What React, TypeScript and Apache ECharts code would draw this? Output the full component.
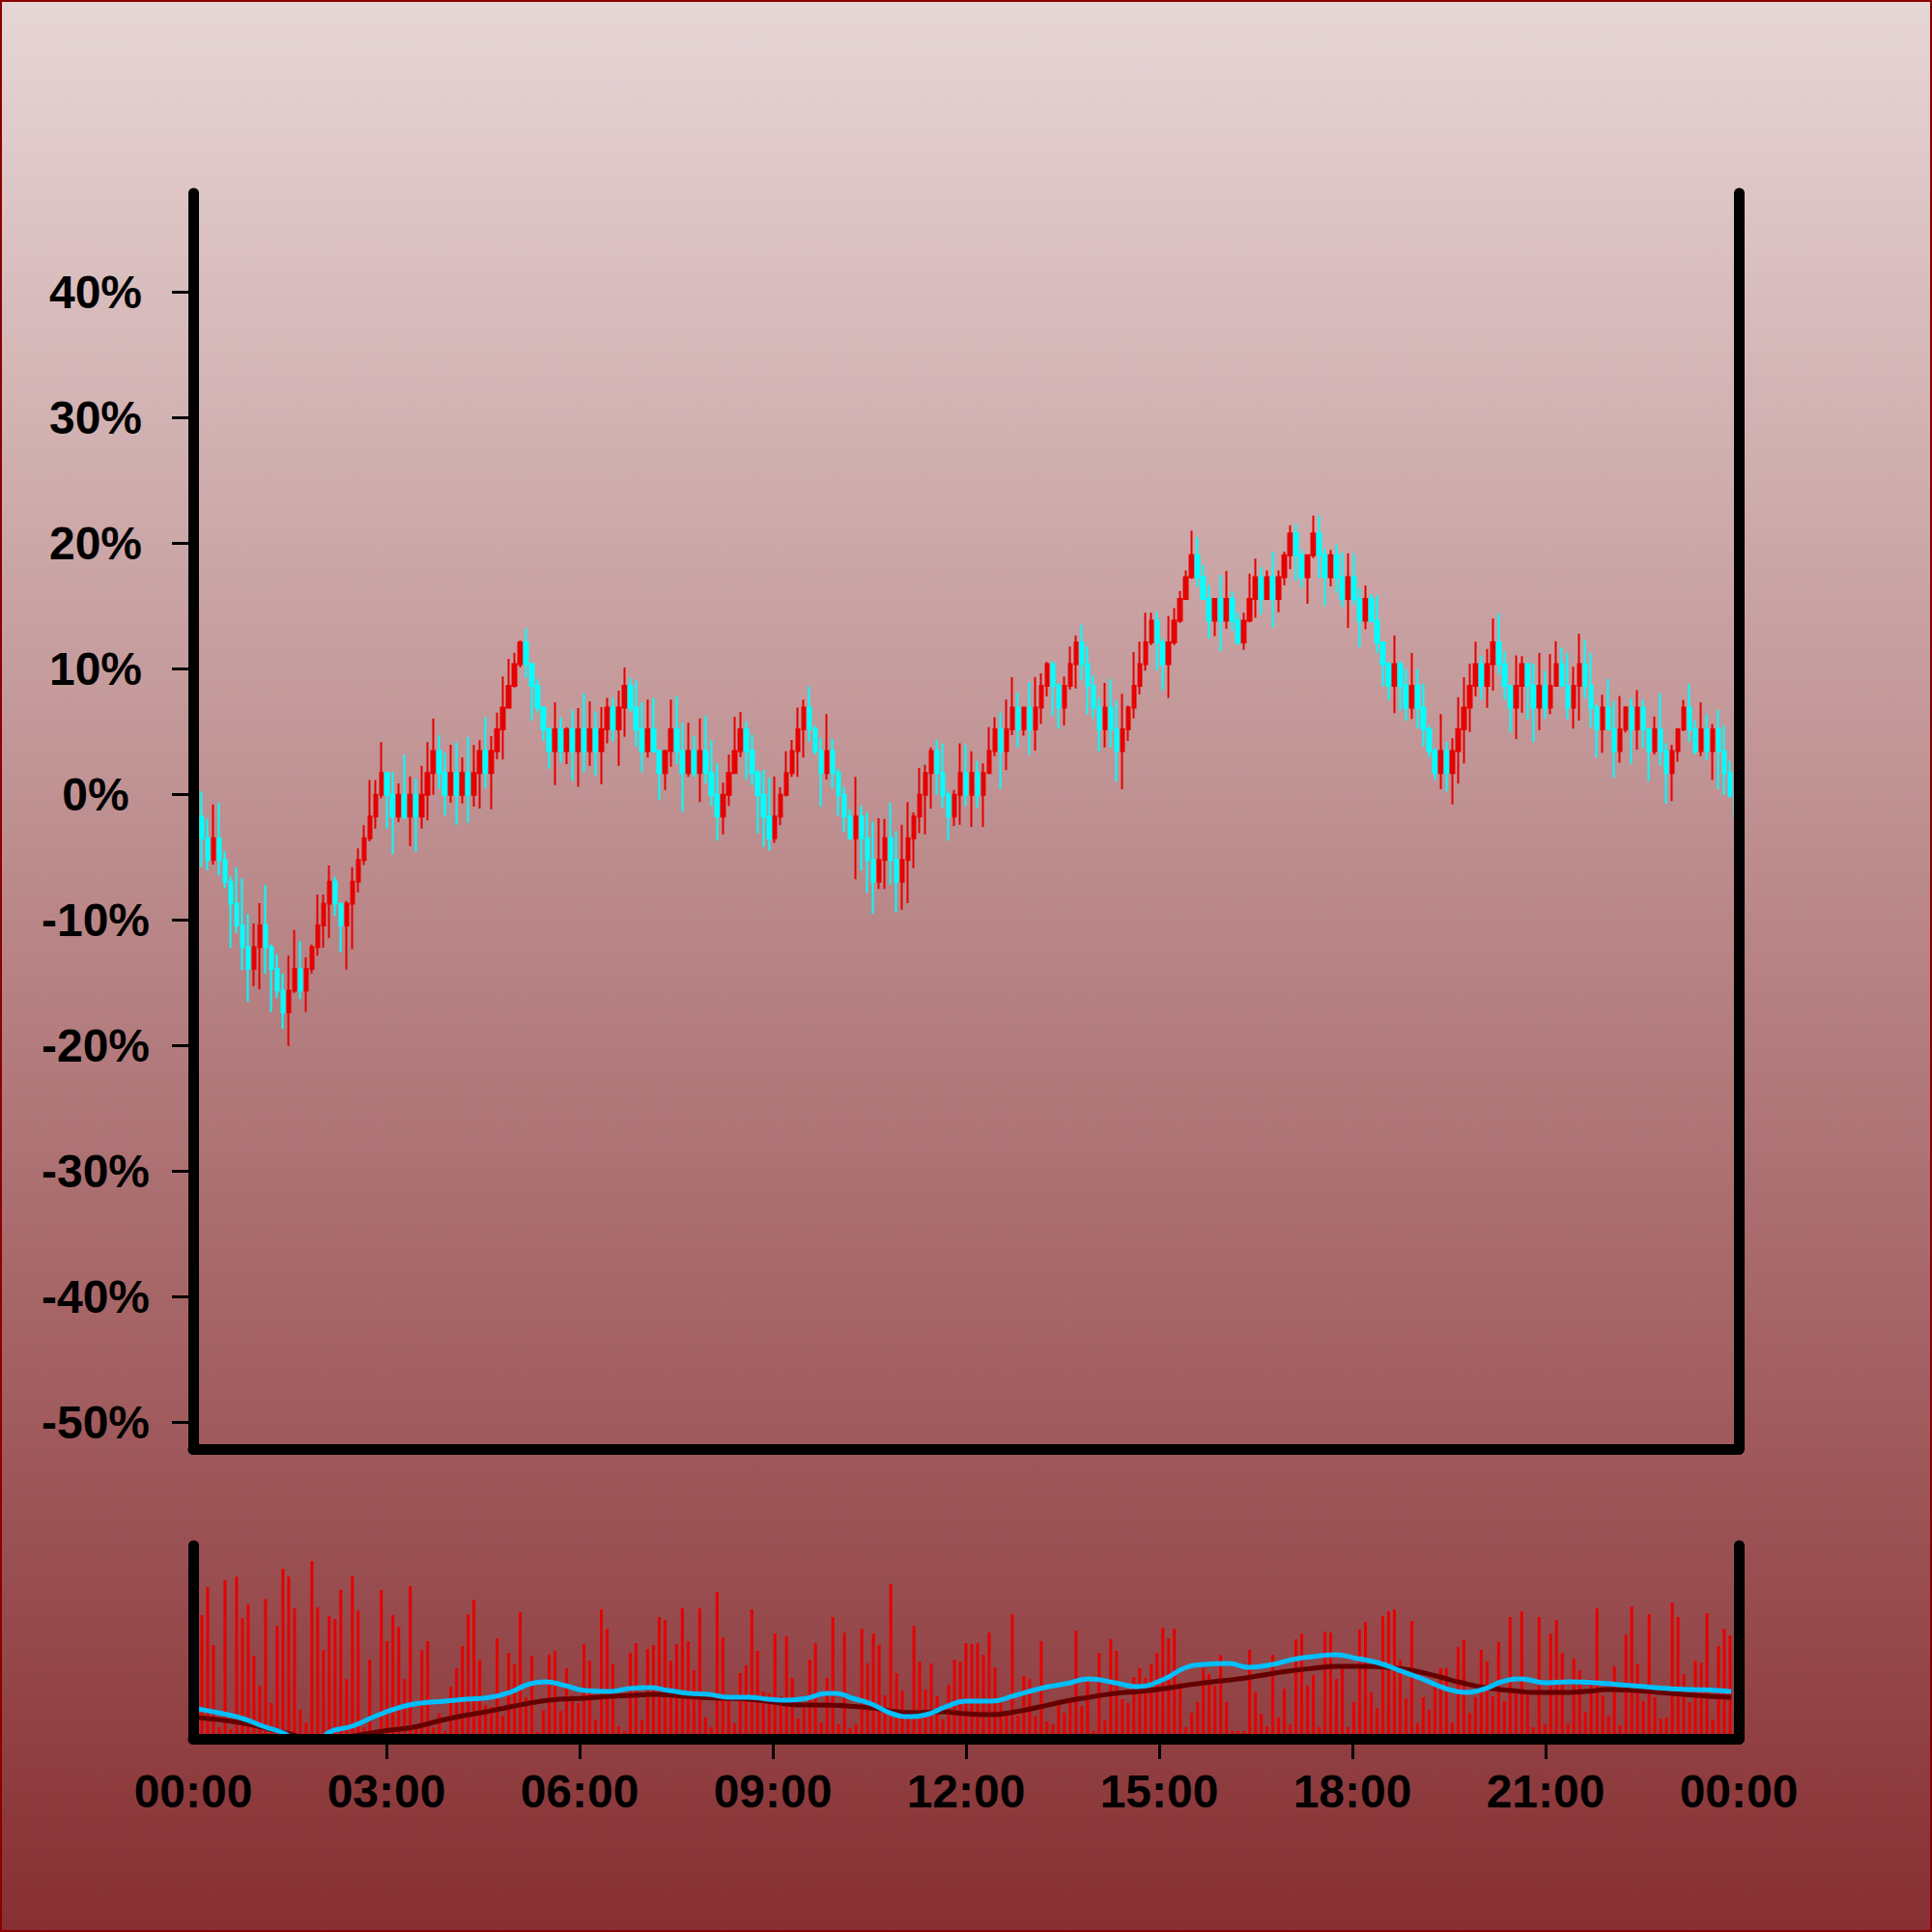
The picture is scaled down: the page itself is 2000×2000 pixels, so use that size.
import React, { useEffect, useRef } from 'react';
import * as echarts from 'echarts';

const DAY_MINUTES = 1440;

const opens = [
  0, -1.73, -3.47, -5.2, -3.47, -5.2, -6.93, -8.67, -10.4, -12.13,
  -13.87, -12.13, -10.4, -12.13, -13.87, -15.6, -17.33, -15.6, -13.87, -15.6,
  -13.87, -12.13, -10.4, -8.67, -6.93, -8.67, -10.4, -8.67, -6.93, -5.2,
  -3.47, -1.73, 0, 1.73, 0, -1.73, 0, -1.73, 0, -1.73,
  0, 1.73, 3.47, 1.73, 0, 1.73, 0, 1.73, 0, 1.73,
  3.47, 1.73, 3.47, 5.2, 6.93, 8.67, 10.4, 12.13, 10.4, 8.67,
  6.93, 5.2, 3.47, 5.2, 3.47, 5.2, 3.47, 5.2, 3.47, 5.2,
  3.47, 5.2, 6.93, 5.2, 6.93, 8.67, 6.93, 5.2, 3.47, 5.2,
  3.47, 1.73, 3.47, 5.2, 3.47, 1.73, 3.47, 1.73, 3.47, 1.73,
  0, -1.73, 0, 1.73, 3.47, 5.2, 3.47, 1.73, 0, -1.73,
  -3.47, -1.73, 0, 1.73, 3.47, 5.2, 6.93, 5.2, 3.47, 1.73,
  3.47, 1.73, 0, -1.73, -3.47, -1.73, -3.47, -5.2, -6.93, -5.2,
  -3.47, -5.2, -6.93, -5.2, -3.47, -1.73, 0, 1.73, 3.47, 1.73,
  0, -1.73, 0, 1.73, 0, 1.73, 0, 1.73, 3.47, 5.2,
  3.47, 5.2, 6.93, 5.2, 6.93, 5.2, 6.93, 8.67, 10.4, 8.67,
  6.93, 8.67, 10.4, 12.13, 10.4, 8.67, 6.93, 5.2, 6.93, 5.2,
  3.47, 5.2, 6.93, 8.67, 10.4, 12.13, 13.87, 12.13, 10.4, 12.13,
  13.87, 15.6, 17.33, 19.07, 17.33, 15.6, 13.87, 15.6, 13.87, 15.6,
  13.87, 12.13, 13.87, 15.6, 17.33, 15.6, 17.33, 15.6, 17.33, 19.07,
  20.8, 19.07, 17.33, 19.07, 20.8, 19.07, 17.33, 19.07, 17.33, 15.6,
  17.33, 15.6, 13.87, 15.6, 13.87, 12.13, 10.4, 8.67, 10.4, 8.67,
  6.93, 8.67, 6.93, 5.2, 3.47, 1.73, 3.47, 1.73, 3.47, 5.2,
  6.93, 8.67, 10.4, 8.67, 10.4, 12.13, 10.4, 8.67, 6.93, 8.67,
  10.4, 8.67, 6.93, 8.67, 6.93, 8.67, 10.4, 8.67, 6.93, 8.67,
  10.4, 8.67, 6.93, 5.2, 6.93, 5.2, 3.47, 5.2, 6.93, 5.2,
  6.93, 5.2, 3.47, 5.2, 3.47, 1.73, 3.47, 5.2, 6.93, 5.2,
  3.47, 5.2, 3.47, 5.2, 3.47, 1.73, 0,
];

const closes = [
  -1.73, -3.47, -5.2, -3.47, -5.2, -6.93, -8.67, -10.4, -12.13, -13.87,
  -12.13, -10.4, -12.13, -13.87, -15.6, -17.33, -15.6, -13.87, -15.6, -13.87,
  -12.13, -10.4, -8.67, -6.93, -8.67, -10.4, -8.67, -6.93, -5.2, -3.47,
  -1.73, 0, 1.73, 0, -1.73, 0, -1.73, 0, -1.73, 0,
  1.73, 3.47, 1.73, 0, 1.73, 0, 1.73, 0, 1.73, 3.47,
  1.73, 3.47, 5.2, 6.93, 8.67, 10.4, 12.13, 10.4, 8.67, 6.93,
  5.2, 3.47, 5.2, 3.47, 5.2, 3.47, 5.2, 3.47, 5.2, 3.47,
  5.2, 6.93, 5.2, 6.93, 8.67, 6.93, 5.2, 3.47, 5.2, 3.47,
  1.73, 3.47, 5.2, 3.47, 1.73, 3.47, 1.73, 3.47, 1.73, 0,
  -1.73, 0, 1.73, 3.47, 5.2, 3.47, 1.73, 0, -1.73, -3.47,
  -1.73, 0, 1.73, 3.47, 5.2, 6.93, 5.2, 3.47, 1.73, 3.47,
  1.73, 0, -1.73, -3.47, -1.73, -3.47, -5.2, -6.93, -5.2, -3.47,
  -5.2, -6.93, -5.2, -3.47, -1.73, 0, 1.73, 3.47, 1.73, 0,
  -1.73, 0, 1.73, 0, 1.73, 0, 1.73, 3.47, 5.2, 3.47,
  5.2, 6.93, 5.2, 6.93, 5.2, 6.93, 8.67, 10.4, 8.67, 6.93,
  8.67, 10.4, 12.13, 10.4, 8.67, 6.93, 5.2, 6.93, 5.2, 3.47,
  5.2, 6.93, 8.67, 10.4, 12.13, 13.87, 12.13, 10.4, 12.13, 13.87,
  15.6, 17.33, 19.07, 17.33, 15.6, 13.87, 15.6, 13.87, 15.6, 13.87,
  12.13, 13.87, 15.6, 17.33, 15.6, 17.33, 15.6, 17.33, 19.07, 20.8,
  19.07, 17.33, 19.07, 20.8, 19.07, 17.33, 19.07, 17.33, 15.6, 17.33,
  15.6, 13.87, 15.6, 13.87, 12.13, 10.4, 8.67, 10.4, 8.67, 6.93,
  8.67, 6.93, 5.2, 3.47, 1.73, 3.47, 1.73, 3.47, 5.2, 6.93,
  8.67, 10.4, 8.67, 10.4, 12.13, 10.4, 8.67, 6.93, 8.67, 10.4,
  8.67, 6.93, 8.67, 6.93, 8.67, 10.4, 8.67, 6.93, 8.67, 10.4,
  8.67, 6.93, 5.2, 6.93, 5.2, 3.47, 5.2, 6.93, 5.2, 6.93,
  5.2, 3.47, 5.2, 3.47, 1.73, 3.47, 5.2, 6.93, 5.2, 3.47,
  5.2, 3.47, 5.2, 3.47, 1.73, 0, -1.73,
];

const highs = [
  1.2, 0.26, -1.92, -0.77, -0.64, -4.5, -6.5, -5.77, -6.66, -9.49,
  -10.25, -8.64, -7.18, -11.92, -12.69, -14.23, -12.82, -10.77, -11.66, -12.95,
  -11.92, -7.95, -7.95, -5.64, -6.53, -8.59, -8.46, -5.77, -4.28, -2.43,
  1.16, 1.16, 4.18, 1.8, 1.8, 0.9, 3.21, 1.46, 1.28, 2.31,
  4.18, 6.08, 4.75, 3.34, 3.98, 4.16, 2.95, 4.62, 3.98, 4.34,
  6.16, 4.67, 6.54, 9.41, 10.82, 11.31, 12.28, 13.26, 10.5, 9.23,
  7.05, 5.39, 7.36, 6.16, 5.39, 6.75, 6.9, 8.08, 7.44, 6.62,
  6.98, 7.7, 7.7, 8.28, 10.13, 9.31, 9.1, 7.36, 7.57, 7.7,
  3.6, 3.59, 7.57, 7.82, 5.72, 5.72, 4.69, 6.08, 6.28, 4.36,
  2.49, 0.95, 3.21, 6.21, 6.59, 5.82, 4.8, 1.98, 1.98, 1.36,
  1.46, 0.59, 3.46, 4.36, 6.93, 7.57, 8.64, 5.5, 4.49, 6.41,
  4.44, 2.05, 0.64, -1.15, 1.41, -0.9, -1.41, -2.18, -1.87, -1.92,
  -0.64, -2.9, -2.38, -0.59, -1.41, 2.13, 2.39, 3.77, 4.36, 4.05,
  0.28, 0.39, 4.1, 3.98, 3.46, 2.69, 2.49, 5.39, 6.16, 6.54,
  7.57, 9.36, 8.13, 7.0, 8.97, 9.36, 9.67, 10.57, 10.64, 8.9,
  9.41, 11.8, 12.69, 13.52, 11.8, 9.49, 7.7, 8.9, 9.23, 7.52,
  8.03, 7.1, 11.36, 12.18, 14.49, 14.49, 14.54, 12.44, 14.23, 14.87,
  16.23, 17.87, 21.03, 20.52, 18.33, 16.67, 15.64, 17.52, 17.82, 16.16,
  14.49, 14.49, 17.62, 18.8, 18.13, 17.87, 19.36, 17.87, 19.36, 21.46,
  21.54, 19.49, 19.1, 22.23, 22.23, 19.6, 19.49, 19.92, 19.31, 19.23,
  19.23, 16.41, 16.67, 15.98, 15.9, 12.18, 10.6, 12.69, 10.64, 10.0,
  11.28, 10.0, 8.85, 5.51, 3.72, 6.41, 4.18, 4.49, 7.77, 9.36,
  10.44, 12.18, 11.03, 11.62, 14.03, 14.44, 11.41, 8.72, 11.1, 11.03,
  10.51, 10.44, 11.28, 9.87, 11.21, 12.23, 11.72, 11.28, 10.18, 12.82,
  12.31, 11.28, 7.18, 7.95, 9.23, 7.44, 7.87, 7.05, 7.69, 8.33,
  7.56, 5.26, 6.23, 8.08, 4.1, 3.98, 5.31, 7.56, 8.85, 5.9,
  7.36, 6.41, 5.64, 6.74, 5.51, 2.69, 1.0,
];

const lows = [
  -2.6, -5.77, -6.02, -5.56, -6.41, -7.43, -12.18, -11.0, -13.97, -16.48,
  -15.25, -15.5, -14.23, -17.3, -16.2, -18.64, -20.0, -15.77, -16.28, -17.3,
  -14.23, -12.82, -12.18, -11.41, -9.61, -12.56, -13.92, -12.3, -7.77, -5.6,
  -3.72, -2.69, -0.3, -2.69, -4.74, -2.18, -1.92, -4.1, -4.54, -2.69,
  -2.05, 0.0, 0.46, -1.66, -0.64, -2.38, -0.69, -2.23, -0.95, -1.1,
  0.51, -1.15, 2.82, 2.8, 6.85, 8.54, 10.13, 9.28, 5.9, 6.54,
  4.28, 2.05, 0.77, 2.57, 2.44, 1.1, 0.64, 1.8, 2.31, 1.54,
  0.85, 4.1, 4.23, 2.31, 4.62, 6.59, 3.85, 1.8, 2.95, 3.34,
  -0.43, 0.39, 2.23, 2.44, -1.36, 1.41, 1.41, -0.59, 0.9, -0.9,
  -3.66, -3.15, -0.9, 1.67, 3.0, 1.21, 0.77, -3.07, -4.15, -4.44,
  -3.84, -2.43, -0.13, 1.41, 1.41, 2.95, 4.23, 3.2, -0.95, 1.21,
  0.51, -1.66, -2.95, -3.59, -6.74, -6.02, -7.82, -9.49, -7.51, -7.51,
  -7.18, -9.36, -9.15, -8.64, -5.85, -3.07, -3.15, -1.1, 0.0, -1.03,
  -3.66, -2.49, -2.38, -0.9, -2.56, -1.03, -2.56, 1.67, 3.08, 0.44,
  1.98, 4.75, 3.77, 4.7, 3.16, 3.52, 5.64, 7.82, 6.28, 5.26,
  5.52, 8.39, 8.46, 9.1, 6.41, 6.08, 3.46, 3.77, 3.77, 1.03,
  0.44, 4.28, 6.08, 8.0, 9.88, 11.92, 9.92, 8.34, 7.7, 11.92,
  13.67, 15.52, 17.18, 16.54, 15.52, 12.44, 12.64, 11.41, 13.21, 13.08,
  11.92, 11.54, 13.72, 14.1, 14.36, 15.52, 13.34, 14.54, 16.67, 17.95,
  17.05, 16.49, 15.21, 18.85, 17.26, 15.05, 16.59, 16.08, 14.95, 13.26,
  15.13, 11.72, 13.16, 13.72, 11.28, 8.64, 7.52, 6.49, 6.67, 5.9,
  6.03, 5.31, 3.85, 3.0, 1.21, 0.44, 0.26, -0.77, 0.9, 2.49,
  5.0, 7.82, 7.57, 6.92, 8.28, 9.62, 7.57, 4.95, 4.44, 6.54,
  5.98, 4.18, 5.13, 6.08, 6.41, 8.59, 8.59, 6.03, 5.26, 5.9,
  7.69, 5.39, 2.95, 3.34, 5.13, 1.36, 2.56, 4.95, 2.44, 3.59,
  3.72, 1.1, 3.21, 2.31, -0.69, -0.51, 2.64, 5.05, 4.18, 3.21,
  3.08, 2.74, 1.16, 0.44, 0.0, -0.26, -2.5,
];

const volumes = [
  60,
  128, 157, 97, 12, 164, 10, 168, 125, 139, 86,
  55, 145, 37, 117, 176, 168, 135, 30, 17, 184,
  136, 92, 127, 124, 154, 62, 168, 133, 12, 82,
  8, 154, 101, 128, 116, 62, 158, 15, 92, 101,
  12, 26, 8, 54, 73, 96, 129, 144, 82, 35,
  33, 104, 24, 89, 77, 131, 43, 86, 7, 30,
  87, 91, 29, 73, 45, 37, 98, 81, 20, 134,
  114, 77, 13, 8, 89, 99, 19, 93, 97, 126,
  123, 81, 98, 135, 101, 71, 135, 22, 12, 152,
  105, 42, 16, 68, 76, 134, 91, 49, 47, 109,
  44, 106, 63, 21, 32, 82, 99, 17, 63, 126,
  15, 110, 11, 15, 114, 78, 109, 97, 45, 160,
  68, 50, 28, 117, 80, 51, 78, 44, 20, 56,
  82, 80,
  99, 98, 99, 87, 110, 74, 37, 25, 129, 24,
  65, 62, 24, 101, 18, 15, 35, 27, 38, 112,
  34, 59, 8, 89, 19, 103, 91, 41, 37, 64,
  73, 63, 77, 89, 115, 104, 114, 58, 12, 27,
  38, 73, 67, 55, 87, 38, 8, 8, 8, 92,
  48, 26, 13, 87, 22, 52, 15, 103, 109, 55,
  66, 12, 111, 110, 62, 75, 12, 38, 113, 121,
  48, 32, 127, 132, 134, 82, 42, 122, 16, 43,
  30, 59, 73, 73, 17, 95, 102, 27, 43, 92,
  80, 44, 100, 39, 126, 52, 132, 47, 12, 126,
  15, 109, 123, 89, 16, 83, 71, 28, 62, 135,
  45, 24, 75, 14, 108, 137, 77, 39, 129, 43,
  21, 22, 141, 126, 67, 38, 81, 79, 130, 20,
  96, 114, 107,
  70,
];

// moving-average lines drawn in the volume panel: [minute of day, value]
const maShort = [
  [4, 31], [23, 27], [46, 21], [65, 13], [86, 5], [99, -5], [113, -5], [127, 7], [148, 13], [171, 24],
  [194, 33], [212, 37], [235, 39], [254, 41], [277, 43], [295, 48], [314, 57], [328, 59], [347, 55], [365, 50],
  [388, 49], [406, 52], [425, 53], [443, 50], [462, 47], [480, 46], [499, 43], [517, 43], [536, 41], [554, 40],
  [572, 42], [590, 47], [599, 47], [614, 42], [632, 36], [651, 26], [669, 23], [683, 25], [701, 33], [720, 39],
  [743, 39], [766, 45], [789, 52], [813, 57], [835, 62], [859, 58], [879, 54], [905, 62], [923, 73], [941, 77],
  [965, 78], [983, 74], [1006, 77], [1024, 82], [1043, 85], [1064, 87], [1085, 83], [1103, 79], [1121, 72], [1145, 62],
  [1167, 52], [1186, 48], [1204, 52], [1219, 59], [1237, 62], [1260, 58], [1283, 59], [1306, 58], [1329, 56], [1352, 54],
  [1375, 52], [1398, 51], [1421, 50], [1433, 49],
];

const maLong = [
  [4, 22], [42, 17], [72, 10], [90, 5], [117, -2], [150, 3], [177, 8], [205, 12], [231, 19], [252, 24],
  [273, 28], [295, 33], [319, 38], [341, 41], [365, 42], [388, 44], [410, 45], [429, 46], [447, 45], [471, 43],
  [494, 42], [517, 41], [540, 38], [563, 35], [586, 35], [609, 34], [632, 32], [655, 28], [673, 27], [697, 28],
  [720, 26], [743, 25], [766, 28], [789, 33], [813, 39], [835, 43], [859, 47], [881, 49], [905, 52], [928, 56],
  [950, 59], [974, 62], [997, 66], [1020, 70], [1043, 73], [1066, 75], [1089, 75], [1112, 74], [1135, 71], [1158, 65],
  [1182, 58], [1204, 53], [1228, 50], [1250, 48], [1274, 48], [1297, 49], [1319, 51], [1343, 50], [1366, 48], [1389, 46],
  [1412, 44], [1433, 43],
];

const yTickValues = [-50, -40, -30, -20, -10, 0, 10, 20, 30, 40];
const xLabelValues = [0, 180, 360, 540, 720, 900, 1080, 1260, 1440];
const xTickValues = [180, 360, 540, 720, 900, 1080, 1260];

// candles are evenly spaced through the day, each centred in its slot
const times = opens.map((_, i) => ((i + 0.5) * DAY_MINUTES) / opens.length);

const fmtTime = (m: number) => {
  const mm = Math.round(m) % DAY_MINUTES;
  const h = Math.floor(mm / 60);
  const mi = mm % 60;
  return `${String(h).padStart(2, '0')}:${String(mi).padStart(2, '0')}`;
};

const UP = '#e60000';
const DOWN = '#00ffff';

export default function App() {
  const ref = useRef<HTMLDivElement>(null);

  useEffect(() => {
    if (!ref.current) return;
    const chart = echarts.init(ref.current, undefined, { renderer: 'svg' });

    const axisLineStyle = { color: '#000', width: 11, cap: 'round' };
    const labelFont = {
      fontFamily: 'Liberation Sans, Arial, Helvetica, sans-serif',
      fontWeight: 'bold',
      fontSize: 48,
      color: '#000',
    };
    const bareAxis = (extra: any) => ({
      type: 'value',
      z: 10,
      axisLine: { show: true, onZero: false, lineStyle: axisLineStyle },
      axisTick: { show: false },
      axisLabel: { show: false },
      splitLine: { show: false },
      ...extra,
    });

    const option: any = {
      animation: false,
      backgroundColor: new echarts.graphic.LinearGradient(0, 0, 0, 1, [
        { offset: 0, color: '#e7d6d6' },
        { offset: 1, color: '#872f32' },
      ]),
      graphic: [
        {
          type: 'rect',
          silent: true,
          z: 100,
          shape: { x: 1, y: 1, width: 1998, height: 1998 },
          style: { fill: 'none', stroke: '#8b0000', lineWidth: 2 },
        },
      ],
      grid: [
        { left: 200, top: 200, width: 1600, height: 1300 },
        { left: 200, top: 1600, width: 1600, height: 200 },
      ],
      xAxis: [
        bareAxis({ gridIndex: 0, min: 0, max: DAY_MINUTES }),
        {
          type: 'value',
          gridIndex: 1,
          z: 10,
          min: 0,
          max: DAY_MINUTES,
          interval: 180,
          axisLine: { show: true, onZero: false, lineStyle: axisLineStyle },
          axisTick: {
            show: true,
            customValues: xTickValues,
            length: 21,
            lineStyle: { color: '#000', width: 3 },
          },
          axisLabel: {
            show: true,
            customValues: xLabelValues,
            formatter: (v: number) => fmtTime(v),
            margin: 30,
            ...labelFont,
          },
          splitLine: { show: false },
        },
      ],
      yAxis: [
        {
          type: 'value',
          gridIndex: 0,
          z: 10,
          min: -52.1,
          max: 47.9,
          axisLine: { show: true, onZero: false, lineStyle: axisLineStyle },
          axisTick: {
            show: true,
            customValues: yTickValues,
            length: 22,
            lineStyle: { color: '#000', width: 3 },
          },
          axisLabel: {
            show: true,
            customValues: yTickValues,
            formatter: (v: number) => `${v}%`,
            align: 'center',
            margin: 101,
            ...labelFont,
          },
          splitLine: { show: false },
        },
        bareAxis({ gridIndex: 0, position: 'right', min: -52.1, max: 47.9 }),
        bareAxis({ gridIndex: 1, min: 0, max: 200 }),
        bareAxis({ gridIndex: 1, position: 'right', min: 0, max: 200 }),
      ],
      series: [
        {
          type: 'candlestick',
          xAxisIndex: 0,
          yAxisIndex: 0,
          barWidth: 4,
          data: times.map((t, i) => [t, opens[i], closes[i], lows[i], highs[i]]),
          itemStyle: {
            color: UP,
            color0: DOWN,
            borderColor: UP,
            borderColor0: DOWN,
            borderWidth: 2,
          },
        },
        {
          type: 'bar',
          xAxisIndex: 1,
          yAxisIndex: 2,
          barWidth: 3,
          data: times.map((t, i) => [t, volumes[i]]),
          itemStyle: { color: UP },
        },
        {
          type: 'line',
          xAxisIndex: 1,
          yAxisIndex: 2,
          data: maLong,
          smooth: true,
          showSymbol: false,
          lineStyle: { color: '#660000', width: 5 },
        },
        {
          type: 'line',
          xAxisIndex: 1,
          yAxisIndex: 2,
          data: maShort,
          smooth: true,
          showSymbol: false,
          lineStyle: { color: '#00bfff', width: 5 },
        },
      ],
    };

    chart.setOption(option);
    return () => chart.dispose();
  }, []);

  return (
    <div
      ref={ref}
      style={{ position: 'absolute', left: 0, top: 0, width: 2000, height: 2000 }}
    />
  );
}
